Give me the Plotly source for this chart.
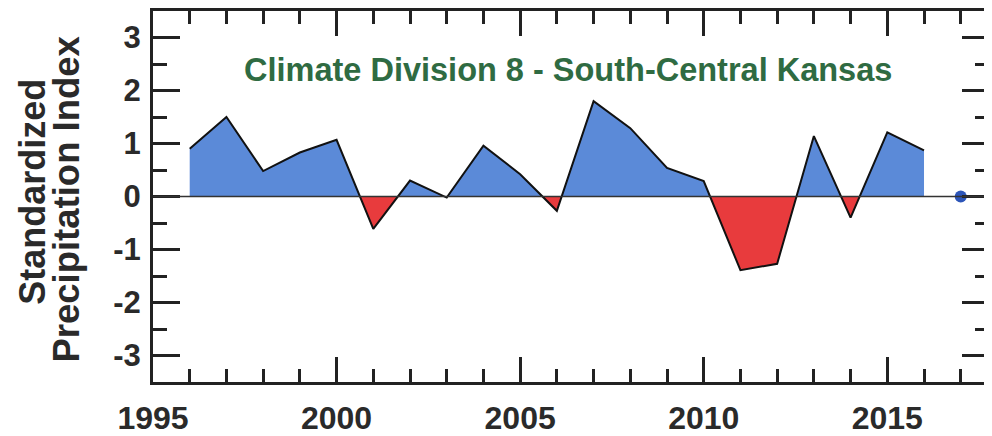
import plotly.graph_objects as go

# ---- data ----
years = list(range(1996, 2017))
spi = [0.90, 1.50, 0.48, 0.83, 1.07, -0.61, 0.30, -0.02, 0.96, 0.42, -0.27,
       1.80, 1.29, 0.54, 0.29, -1.39, -1.27, 1.14, -0.40, 1.21, 0.87]
latest_year = [2017]
latest_spi = [0.0]

title_text = "Climate Division 8 - South-Central Kansas"
ylabel_lines = ["Standardized", "Precipitation Index"]
y_ticks = [-3, -2, -1, 0, 1, 2, 3]

# ---- split series at zero crossings for two-colour fill ----
ax, av = [], []
for i in range(len(years)):
    if i > 0:
        v0, v1 = spi[i - 1], spi[i]
        if (v0 > 0 > v1) or (v0 < 0 < v1):
            t = v0 / (v0 - v1)
            ax.append(years[i - 1] + t * (years[i] - years[i - 1]))
            av.append(0.0)
    ax.append(years[i])
    av.append(spi[i])
pos = [max(v, 0.0) for v in av]
neg = [min(v, 0.0) for v in av]

BLUE = "#5b8ad8"
RED = "#e83b3d"
DARK = "#222222"
TXT = "#2a2a2a"
FONT = "Liberation Sans, Arial, sans-serif"

fig = go.Figure()
fig.add_trace(go.Scatter(x=ax, y=pos, mode="lines", line=dict(width=0),
                         fill="tozeroy", fillcolor=BLUE, hoverinfo="skip"))
fig.add_trace(go.Scatter(x=ax, y=neg, mode="lines", line=dict(width=0),
                         fill="tozeroy", fillcolor=RED, hoverinfo="skip"))
fig.add_trace(go.Scatter(x=years, y=spi, mode="lines",
                         line=dict(color="#111111", width=2)))
fig.add_trace(go.Scatter(x=latest_year, y=latest_spi, mode="markers",
                         marker=dict(color="#2c55b8", size=12)))

fig.add_shape(type="line", xref="paper", x0=0, x1=1, yref="y", y0=0, y1=0,
              line=dict(color="#333333", width=1.5), layer="above")

fig.add_annotation(text=title_text, xref="paper", yref="paper",
                   x=0.497, y=0.842, xanchor="center", yanchor="middle",
                   showarrow=False,
                   font=dict(family=FONT, size=32.5, color="#2f6b42", weight="bold"))
fig.add_annotation(text=ylabel_lines[0], xref="paper", yref="paper",
                   x=-0.145, y=0.512, xanchor="center", yanchor="middle",
                   showarrow=False, textangle=-90,
                   font=dict(family=FONT, size=36, color=TXT, weight="bold"))
fig.add_annotation(text=ylabel_lines[1], xref="paper", yref="paper",
                   x=-0.103, y=0.494, xanchor="center", yanchor="middle",
                   showarrow=False, textangle=-90,
                   font=dict(family=FONT, size=36.5, color=TXT, weight="bold"))

# page body has an 8px margin, so the figure is sized to end at the window edge
fig.update_layout(
    width=984, height=428,
    margin=dict(l=145, r=0, t=2, b=46),
    paper_bgcolor="white", plot_bgcolor="white",
    showlegend=False,
    font=dict(family=FONT, color=TXT),
)
fig.update_xaxes(
    range=[1995, 2017.77], showgrid=False, zeroline=False,
    showline=True, linecolor=DARK, linewidth=3, mirror="ticks",
    ticks="inside", ticklen=25, tickwidth=3, tickcolor=DARK,
    tick0=1995, dtick=5,
    minor=dict(dtick=1, ticks="inside", ticklen=13, tickwidth=3, tickcolor=DARK),
    tickfont=dict(family=FONT, size=32, color=TXT, weight="bold"),
    ticklabelstandoff=6,
)
fig.update_yaxes(
    range=[-3.5, 3.5], showgrid=False, zeroline=False,
    showline=True, linecolor=DARK, linewidth=3, mirror="ticks",
    ticks="inside", ticklen=27, tickwidth=3, tickcolor=DARK,
    tickvals=y_ticks, ticktext=[str(v) for v in y_ticks],
    minor=dict(dtick=0.5, ticks="inside", ticklen=14, tickwidth=3, tickcolor=DARK),
    tickfont=dict(family=FONT, size=31, color=TXT, weight="bold"),
    ticklabelstandoff=3,
)

fig.write_html("out.html")
